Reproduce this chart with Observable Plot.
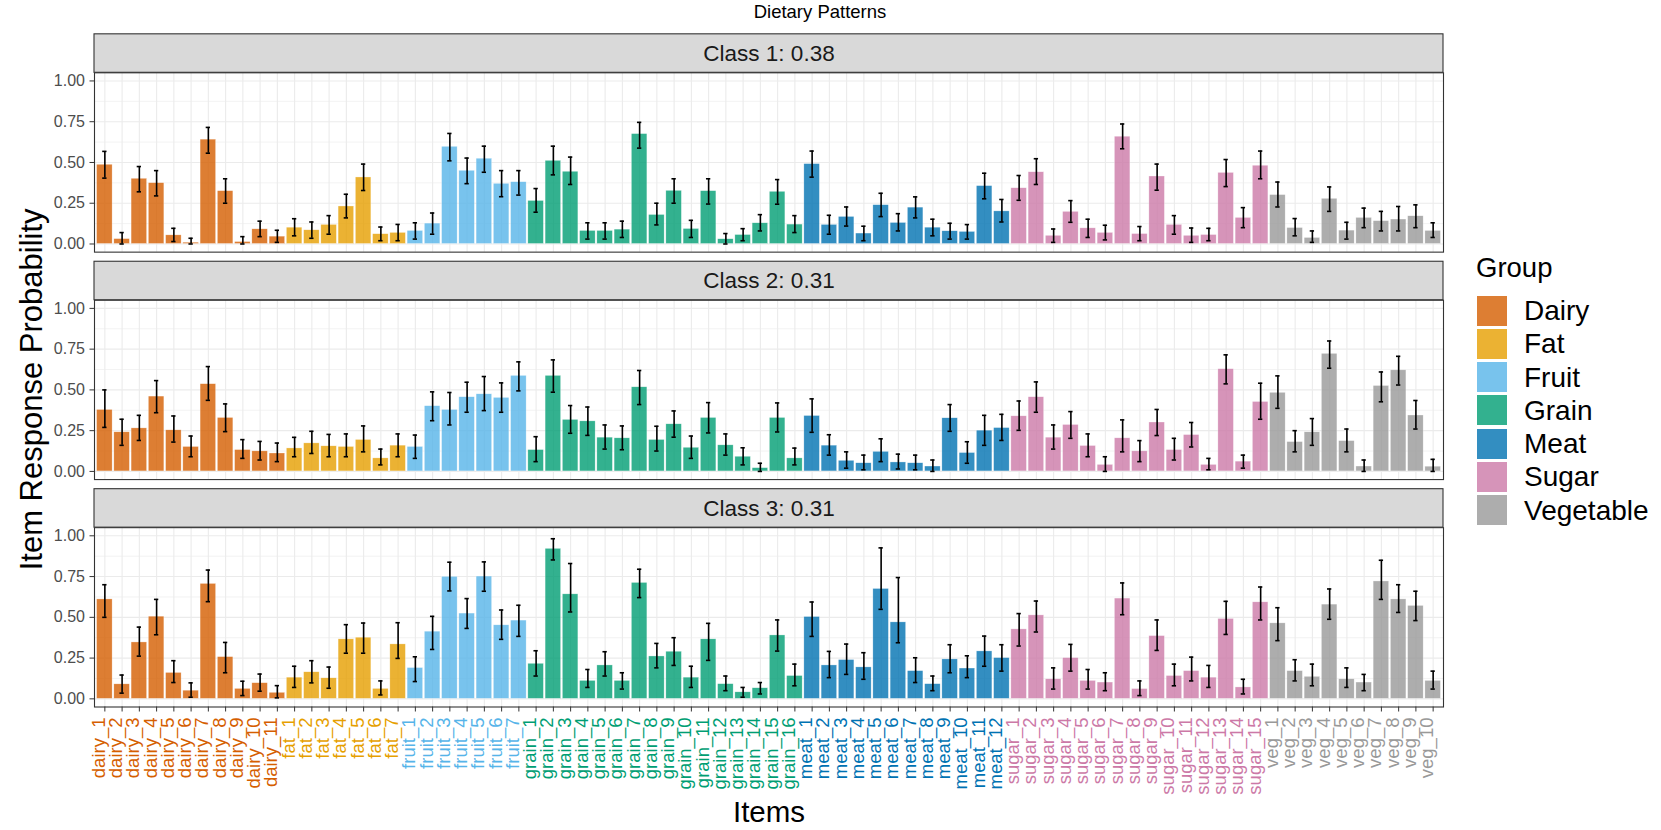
<!DOCTYPE html>
<html>
<head>
<meta charset="utf-8">
<script src="https://cdn.jsdelivr.net/npm/d3@7"></script>
<script src="https://cdn.jsdelivr.net/npm/@observablehq/plot@0.6"></script>
<style>
  html, body { margin: 0; padding: 0; background: white; }
  body { font-family: "Liberation Sans", Arial, Helvetica, sans-serif; }
  #wrap { position: relative; width: 1661px; height: 830px; overflow: hidden; }
  #title { position: relative; height: 26px; width: 1661px; }
  #title span { position: absolute; left: 820px; top: 1px; transform: translateX(-50%); font-size: 18.5px; color: #000; white-space: nowrap; }
  #legend { position: absolute; left: 1476px; top: 253px; }
  #legend .lt { font-size: 27.5px; color: #000; height: 41px; line-height: 30px; }
  #legend .row { position: relative; height: 33.3px; }
  #legend .key { position: absolute; left: 1px; top: 1.5px; width: 30px; height: 30px; }
  #legend .lab { position: absolute; left: 48px; top: 0; line-height: 33px; font-size: 28px; color: #000; white-space: nowrap; }
</style>
</head>
<body>
<div id="wrap">
  <div id="title"><span>Dietary Patterns</span></div>
  <div id="chart"></div>
  <div id="legend"></div>
</div>
<script>
// ---------- data ----------
const groups   = ["Dairy", "Fat", "Fruit", "Grain", "Meat", "Sugar", "Vegetable"];
const prefixes = ["dairy", "fat", "fruit", "grain", "meat", "sugar", "veg"];
const sizes    = [11, 7, 7, 16, 12, 15, 10];
const colors   = ["#D55E00", "#E69F00", "#56B4E9", "#009E73", "#0072B2", "#CC79A7", "#999999"];
const classLabels = ["Class 1: 0.38", "Class 2: 0.31", "Class 3: 0.31"];
const yTicks = [0, 0.25, 0.5, 0.75, 1];
const yMinor = [0.125, 0.375, 0.625, 0.875];

// Class 1
const c1Value = [0.486,0.03,0.40,0.373,0.053,0.008,0.64,0.324,0.012,0.09,0.045,
  0.10,0.084,0.117,0.23,0.408,0.06,0.068,
  0.08,0.125,0.596,0.449,0.523,0.369,0.379,
  0.264,0.51,0.443,0.08,0.08,0.088,0.674,0.178,0.326,0.092,0.324,0.029,0.055,0.127,0.32,0.119,
  0.49,0.117,0.166,0.064,0.238,0.129,0.223,0.10,0.078,0.074,0.355,0.20,
  0.342,0.44,0.05,0.197,0.096,0.068,0.658,0.061,0.414,0.117,0.05,0.055,0.436,0.16,0.48,
  0.30,0.098,0.037,0.277,0.082,0.16,0.14,0.15,0.17,0.08];
const c1Lo = [0.404,0.0,0.32,0.295,0.015,0.0,0.557,0.25,0.0,0.045,0.01,
  0.05,0.035,0.06,0.16,0.328,0.02,0.02,
  0.03,0.06,0.51,0.37,0.44,0.29,0.30,
  0.195,0.424,0.365,0.03,0.03,0.04,0.588,0.117,0.25,0.04,0.245,0.0,0.02,0.08,0.244,0.07,
  0.41,0.06,0.11,0.02,0.168,0.08,0.16,0.05,0.03,0.03,0.277,0.135,
  0.268,0.365,0.01,0.133,0.04,0.025,0.584,0.02,0.33,0.06,0.01,0.02,0.352,0.10,0.40,
  0.227,0.05,0.01,0.20,0.03,0.10,0.08,0.08,0.10,0.04];
const c1Hi = [0.568,0.07,0.475,0.45,0.096,0.035,0.715,0.40,0.045,0.14,0.084,
  0.155,0.135,0.174,0.305,0.49,0.104,0.12,
  0.13,0.19,0.678,0.527,0.60,0.45,0.45,
  0.34,0.60,0.533,0.13,0.13,0.14,0.746,0.25,0.40,0.145,0.40,0.064,0.094,0.18,0.395,0.174,
  0.57,0.176,0.227,0.109,0.311,0.186,0.289,0.152,0.127,0.119,0.434,0.273,
  0.42,0.523,0.092,0.266,0.152,0.115,0.736,0.107,0.49,0.174,0.098,0.096,0.518,0.223,0.57,
  0.38,0.156,0.08,0.35,0.133,0.22,0.20,0.23,0.24,0.13];

// Class 2
const c2Value = [0.377,0.24,0.264,0.459,0.252,0.15,0.535,0.328,0.131,0.123,0.11,
  0.141,0.172,0.154,0.15,0.193,0.08,0.158,
  0.15,0.40,0.377,0.455,0.473,0.451,0.586,
  0.131,0.586,0.316,0.307,0.207,0.203,0.516,0.193,0.289,0.145,0.328,0.16,0.09,0.02,0.328,0.08,
  0.34,0.158,0.065,0.05,0.12,0.055,0.05,0.03,0.326,0.113,0.25,0.266,
  0.338,0.455,0.207,0.285,0.156,0.04,0.203,0.123,0.30,0.131,0.223,0.04,0.627,0.06,0.426,
  0.482,0.18,0.24,0.721,0.186,0.03,0.524,0.62,0.343,0.029];
const c2Lo = [0.27,0.16,0.19,0.36,0.18,0.09,0.436,0.244,0.08,0.07,0.06,
  0.09,0.11,0.09,0.09,0.12,0.04,0.09,
  0.08,0.311,0.285,0.363,0.373,0.363,0.494,
  0.06,0.486,0.234,0.221,0.137,0.133,0.41,0.125,0.21,0.08,0.236,0.10,0.04,0.0,0.242,0.04,
  0.24,0.10,0.02,0.01,0.06,0.015,0.01,0.0,0.246,0.05,0.16,0.19,
  0.252,0.363,0.137,0.203,0.09,0.0,0.12,0.06,0.22,0.07,0.15,0.01,0.537,0.02,0.32,
  0.387,0.12,0.16,0.633,0.12,0.0,0.427,0.53,0.26,0.0];
const c2Hi = [0.50,0.32,0.344,0.557,0.34,0.217,0.643,0.414,0.195,0.184,0.174,
  0.209,0.246,0.227,0.23,0.279,0.137,0.23,
  0.223,0.488,0.484,0.547,0.582,0.543,0.672,
  0.213,0.684,0.404,0.395,0.285,0.279,0.619,0.277,0.371,0.217,0.422,0.23,0.145,0.05,0.42,0.143,
  0.445,0.225,0.12,0.10,0.20,0.106,0.10,0.07,0.41,0.182,0.344,0.35,
  0.432,0.549,0.285,0.367,0.23,0.09,0.316,0.189,0.38,0.203,0.30,0.08,0.715,0.10,0.541,
  0.586,0.25,0.324,0.80,0.26,0.07,0.61,0.706,0.435,0.074];

// Class 3
const c3Value = [0.61,0.089,0.346,0.504,0.159,0.05,0.705,0.256,0.061,0.096,0.037,
  0.13,0.163,0.126,0.365,0.375,0.061,0.334,
  0.189,0.412,0.748,0.523,0.75,0.451,0.48,
  0.215,0.92,0.641,0.11,0.205,0.11,0.711,0.26,0.289,0.13,0.365,0.09,0.04,0.065,0.389,0.14,
  0.502,0.205,0.238,0.193,0.674,0.469,0.17,0.09,0.242,0.186,0.291,0.25,
  0.426,0.512,0.12,0.25,0.11,0.10,0.615,0.06,0.385,0.14,0.17,0.13,0.49,0.07,0.592,
  0.463,0.17,0.135,0.578,0.12,0.10,0.72,0.61,0.57,0.11];
const c3Lo = [0.50,0.035,0.262,0.393,0.10,0.01,0.596,0.16,0.02,0.047,0.006,
  0.07,0.098,0.065,0.28,0.28,0.024,0.248,
  0.106,0.303,0.662,0.432,0.66,0.365,0.383,
  0.14,0.852,0.533,0.07,0.14,0.06,0.621,0.19,0.205,0.07,0.236,0.05,0.01,0.03,0.293,0.08,
  0.383,0.13,0.15,0.12,0.549,0.344,0.10,0.05,0.16,0.13,0.20,0.17,
  0.324,0.41,0.06,0.17,0.06,0.05,0.516,0.02,0.297,0.08,0.11,0.07,0.395,0.03,0.484,
  0.357,0.11,0.08,0.488,0.07,0.05,0.61,0.53,0.48,0.06];
const c3Hi = [0.70,0.146,0.44,0.61,0.234,0.098,0.79,0.346,0.108,0.152,0.081,
  0.20,0.234,0.195,0.455,0.465,0.11,0.467,
  0.258,0.506,0.838,0.615,0.84,0.545,0.574,
  0.295,0.982,0.83,0.18,0.289,0.16,0.795,0.34,0.375,0.20,0.463,0.14,0.07,0.10,0.484,0.213,
  0.594,0.291,0.336,0.283,0.926,0.744,0.252,0.14,0.332,0.264,0.385,0.332,
  0.523,0.60,0.19,0.334,0.18,0.16,0.711,0.11,0.484,0.213,0.256,0.205,0.598,0.12,0.686,
  0.559,0.24,0.213,0.674,0.19,0.15,0.85,0.70,0.66,0.17];

// ---------- build table ----------
const items = [];
const itemGroup = [];
prefixes.forEach((p, g) => {
  for (let k = 1; k <= sizes[g]; k++) { items.push(`${p}_${k}`); itemGroup.push(groups[g]); }
});
const series = [[c1Value, c1Lo, c1Hi], [c2Value, c2Lo, c2Hi], [c3Value, c3Lo, c3Hi]];
const rows = [];
series.forEach(([v, lo, hi], c) => {
  items.forEach((it, i) => rows.push({cls: classLabels[c], item: it, group: itemGroup[i], value: v[i], lo: lo[i], hi: hi[i]}));
});
const strips = classLabels.map(cls => ({cls}));
const bottomLabels = items.map((it, i) => ({cls: classLabels[2], item: it, group: itemGroup[i]}));

// ---------- chart ----------
const W = 1661, H = 804;
const chart = Plot.plot({
  width: W, height: H,
  marginLeft: 94, marginRight: W - 1443, marginTop: 46.3, marginBottom: 123.5,
  style: {fontFamily: "'Liberation Sans', Arial, Helvetica, sans-serif", background: "white", overflow: "visible"},
  x: {type: "band", domain: items, paddingInner: 0.1, paddingOuter: 0.15, round: false},
  y: {domain: [-0.05, 1.05]},
  fy: {domain: classLabels, paddingInner: 48 / 227, paddingOuter: 0, round: false, axis: null},
  color: {domain: groups, range: colors},
  marks: [
    Plot.ruleY(yMinor, {stroke: "#ebebeb", strokeWidth: 0.6}),
    Plot.ruleY(yTicks, {stroke: "#ebebeb", strokeWidth: 1.1}),
    Plot.gridX({stroke: "#ebebeb", strokeOpacity: 1, strokeWidth: 1.1}),
    Plot.barY(rows, {x: "item", y: "value", fy: "cls", fill: "group", fillOpacity: 0.8,
      stroke: "white", strokeOpacity: 0.6, strokeWidth: 0.5}),
    Plot.ruleX(rows, {x: "item", y1: "lo", y2: "hi", fy: "cls", stroke: "black", strokeWidth: 1.6}),
    Plot.tickY(rows, {x: "item", y: "lo", fy: "cls", stroke: "black", strokeWidth: 1.6, insetLeft: 5.6, insetRight: 5.6}),
    Plot.tickY(rows, {x: "item", y: "hi", fy: "cls", stroke: "black", strokeWidth: 1.6, insetLeft: 5.6, insetRight: 5.6}),
    Plot.frame({stroke: "#333333", strokeWidth: 1.1}),
    Plot.rect(strips, {y1: 1.05, y2: 1.286, fy: "cls", fill: "#d9d9d9", stroke: "#333333", strokeWidth: 1.1}),
    Plot.text(strips, {y: 1.168, fy: "cls", text: "cls", frameAnchor: "middle", fontSize: 22.5, fill: "#1a1a1a"}),
    Plot.axisY({ticks: yTicks, tickFormat: d3.format(".2f"), tickSize: 4.5, tickPadding: 5,
      fontSize: 16, fill: "#4d4d4d", stroke: "#333333", label: null}),
    Plot.axisX({tickSize: 5, tickFormat: () => "", stroke: "#333333", label: null}),
    Plot.text(bottomLabels, {x: "item", fy: "cls", text: "item", fill: "group", frameAnchor: "bottom",
      rotate: -90, textAnchor: "end", dy: 10.5, fontSize: 18.5})
  ]
});
document.getElementById("chart").appendChild(chart);

// axis titles
const svg = d3.select(chart);
svg.append("text")
  .attr("x", 769).attr("y", 796)
  .attr("text-anchor", "middle")
  .attr("font-size", 29.5).attr("fill", "#000")
  .text("Items");
svg.append("text")
  .attr("transform", "translate(41.5,363.4) rotate(-90)")
  .attr("text-anchor", "middle")
  .attr("font-size", 31).attr("fill", "#000")
  .text("Item Response Probability");

// legend
const lg = d3.select("#legend");
lg.append("div").attr("class", "lt").text("Group");
groups.forEach((g, i) => {
  const r = lg.append("div").attr("class", "row");
  r.append("div").attr("class", "key").style("background", colors[i]).style("opacity", 0.8);
  r.append("div").attr("class", "lab").text(g);
});
</script>
</body>
</html>
